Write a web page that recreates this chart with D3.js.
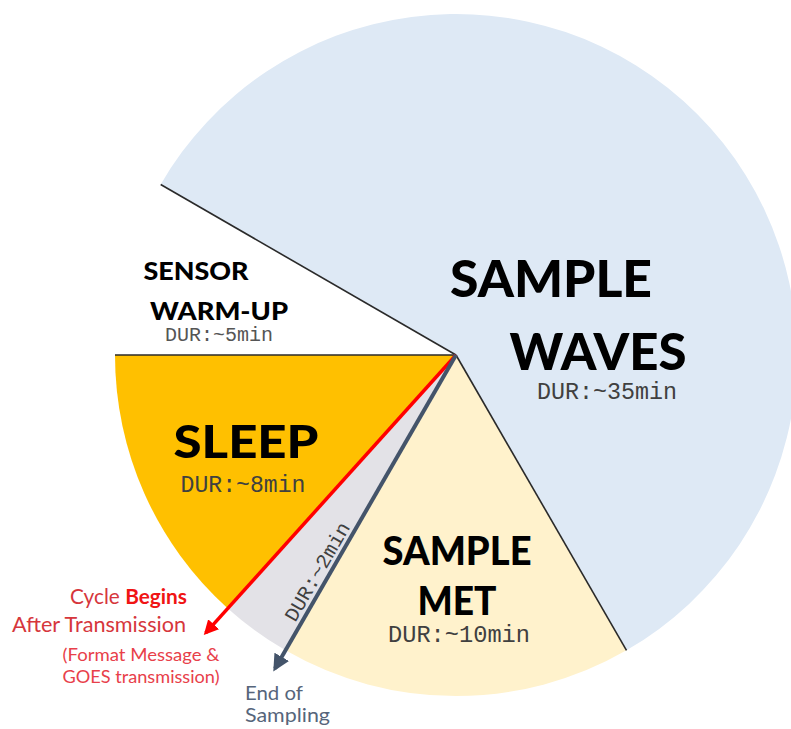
<!DOCTYPE html>
<html>
<head>
<meta charset="utf-8">
<script src="https://cdn.jsdelivr.net/npm/d3@7"></script>
<style>
  html, body { margin: 0; padding: 0; background: #ffffff; }
  svg { display: block; }
</style>
</head>
<body>
<svg id="chart" width="791" height="729"></svg>
<script>
// ---- data ----
const phases = ["Sample Waves", "Sample Met", "Transmit", "Sleep", "Sensor Warm-Up"];
const durations = [35, 10, 2, 8, 5];           // minutes in a 60 min cycle
const durLabels = ["DUR:~35min", "DUR:~10min", "DUR:~2min", "DUR:~8min", "DUR:~5min"];
const colors = ["#dee9f5", "#fff2cc", "#e3e2e7", "#ffc000", "#ffffff"];

// ---- layout ----
const W = 791, H = 729;
const cx = 456, cy = 355, R = 341;
const start = -Math.PI / 3;

const svg = d3.select("#chart");
const g = svg.append("g").attr("transform", `translate(${cx},${cy})`);

const pie = d3.pie().sort(null).value(d => d)
  .startAngle(start).endAngle(start + 2 * Math.PI);
const arcs = pie(durations);
const arc = d3.arc().innerRadius(0).outerRadius(R);

g.selectAll("path.slice").data(arcs).join("path")
  .attr("class", "slice")
  .attr("d", arc)
  .attr("fill", (d, i) => colors[i])
  .attr("stroke", "none");

const pt = (a, r) => [Math.sin(a) * r, -Math.cos(a) * r];

// thin boundary lines
const thin = [arcs[0].startAngle, arcs[0].endAngle, arcs[4].startAngle];
g.selectAll("line.bd").data(thin).join("line")
  .attr("class", "bd")
  .attr("x1", 0).attr("y1", 0)
  .attr("x2", a => pt(a, R)[0]).attr("y2", a => pt(a, R)[1])
  .attr("stroke", "#2a2a2a").attr("stroke-width", 1.6);

// arrows
const defs = svg.append("defs");
function marker(id, color) {
  defs.append("marker").attr("id", id)
    .attr("viewBox", "0 0 10 10").attr("refX", 8).attr("refY", 5)
    .attr("markerWidth", 4.2).attr("markerHeight", 4.2)
    .attr("markerUnits", "strokeWidth")
    .attr("orient", "auto")
    .append("path").attr("d", "M0,0 L10,5 L0,10 Z").attr("fill", color);
}
marker("arRed", "#ff0000");
marker("arSlate", "#44546a");

const redA = arcs[2].endAngle, slateA = arcs[2].startAngle;
g.append("line")
  .attr("x1", 0).attr("y1", 0)
  .attr("x2", pt(redA, 374)[0]).attr("y2", pt(redA, 374)[1])
  .attr("stroke", "#ff0000").attr("stroke-width", 3.5)
  .attr("marker-end", "url(#arRed)");
g.append("line")
  .attr("x1", 0).attr("y1", 0)
  .attr("x2", pt(slateA, 362)[0]).attr("y2", pt(slateA, 362)[1])
  .attr("stroke", "#44546a").attr("stroke-width", 4)
  .attr("marker-end", "url(#arSlate)");

// ---- labels ----
const sans = "Lato, 'Open Sans', 'DejaVu Sans', sans-serif";
const mono = "'Liberation Mono', 'DejaVu Sans Mono', monospace";

function label(x, y, txt, opt) {
  const t = svg.append("text")
    .attr("x", x).attr("y", y)
    .attr("text-anchor", opt.anchor || "middle")
    .attr("font-family", opt.family || sans)
    .attr("font-size", opt.size)
    .attr("font-weight", opt.weight || "normal")
    .attr("fill", opt.fill || "#000")
    .text(txt);
  if (opt.rotate) t.attr("transform", `rotate(${opt.rotate},${x},${y})`);
  if (opt.width) t.attr("textLength", opt.width).attr("lengthAdjust", "spacingAndGlyphs");
  return t;
}

// Sample Waves
label(551, 297, "SAMPLE", {size: 52, weight: 900, width: 202});
label(598, 370, "WAVES", {size: 52, weight: 900, width: 177});
label(607, 399, durLabels[0], {size: 23, family: mono, fill: "#404040", width: 140});

// Sample Met
label(457, 565, "SAMPLE", {size: 39, weight: 900, width: 149});
label(457, 615, "MET", {size: 39, weight: 900, width: 79});
label(459, 642, durLabels[1], {size: 23, family: mono, fill: "#404040", width: 142});

// Sleep
label(246, 458, "SLEEP", {size: 46, weight: 900, width: 145});
label(243, 492, durLabels[3], {size: 23, family: mono, fill: "#404040", width: 125});

// Sensor warm-up
label(196, 280, "SENSOR", {size: 24, weight: 900, width: 105});
label(219, 320, "WARM-UP", {size: 25, weight: 900, width: 138});
label(219, 341, durLabels[4], {size: 20, family: mono, fill: "#555555", width: 108});

// Transmit (rotated along the slate arrow)
label(323, 575, durLabels[2], {size: 20, family: mono, fill: "#404040", rotate: -60, width: 111});

// Cycle begins annotation
const cyc = svg.append("text").attr("x", 187).attr("y", 604)
  .attr("text-anchor", "end").attr("font-family", sans).attr("font-size", 21)
  .attr("textLength", 117).attr("lengthAdjust", "spacingAndGlyphs");
cyc.append("tspan").attr("fill", "#d6363c").text("Cycle ");
cyc.append("tspan").attr("fill", "#f01414").attr("font-weight", "bold").text("Begins");
label(186, 632, "After Transmission", {anchor: "end", size: 21, fill: "#d6363c", width: 174});
label(141, 661, "(Format Message &", {size: 17, fill: "#e8404a", width: 157});
label(141, 683, "GOES transmission)", {size: 17, fill: "#e8404a", width: 157});

// End of sampling annotation
label(245, 700, "End of", {anchor: "start", size: 20, fill: "#56657b", width: 58});
label(245, 722, "Sampling", {anchor: "start", size: 20, fill: "#56657b", width: 85});
</script>
</body>
</html>
